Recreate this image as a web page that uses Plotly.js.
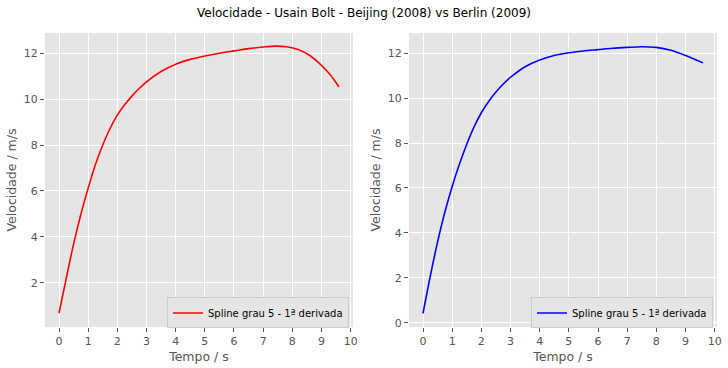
<!DOCTYPE html>
<html>
<head>
<meta charset="utf-8">
<script src="https://cdn.plot.ly/plotly-3.0.1.min.js"></script>
<style>html,body{margin:0;padding:0;background:#fff;}</style>
</head>
<body>
<div id="chart" style="width:728px;height:368px;"></div>
<script>
// Beijing 2008 (left)
const tBeijing = [0, 0.25, 0.5, 0.75, 1, 1.25, 1.5, 1.75, 2, 2.25, 2.5, 2.75, 3, 3.5, 4, 4.5, 5, 5.5, 6, 6.5, 7, 7.4, 7.8, 8.2, 8.6, 9, 9.3, 9.6];
const vBeijing = [0.67, 2.2, 3.68, 4.98, 6.12, 7.15, 8.0, 8.72, 9.3, 9.75, 10.13, 10.46, 10.75, 11.2, 11.52, 11.73, 11.88, 12.0, 12.1, 12.2, 12.27, 12.31, 12.28, 12.16, 11.9, 11.47, 11.06, 10.53];
// Berlin 2009 (right)
const tBerlin = [0, 0.25, 0.5, 0.75, 1, 1.25, 1.5, 1.75, 2, 2.25, 2.5, 2.75, 3, 3.5, 4, 4.5, 5, 5.5, 6, 6.5, 7, 7.5, 8, 8.5, 9, 9.6];
const vBerlin = [0.42, 2.08, 3.6, 4.93, 6.07, 7.07, 7.95, 8.72, 9.35, 9.85, 10.27, 10.63, 10.93, 11.4, 11.7, 11.9, 12.02, 12.1, 12.16, 12.22, 12.26, 12.29, 12.26, 12.13, 11.9, 11.57];

const seriesName = "Spline grau 5 - 1ª derivada";
const chartTitle = "Velocidade - Usain Bolt - Beijing (2008) vs Berlin (2009)";
const xLabel = "Tempo / s";
const yLabel = "Velocidade / m/s";
const xTicks = [0, 1, 2, 3, 4, 5, 6, 7, 8, 9, 10];

const FONT = "DejaVu Sans, sans-serif";
const tickFont = {family: FONT, size: 11, color: "#555555"};
const titleFont = {family: FONT, size: 12.5, color: "#555555"};

function xax(domain, anchor) {
  return {
    domain: domain, anchor: anchor, range: [-0.48, 10.08],
    tickmode: "array", tickvals: xTicks, ticktext: xTicks.map(String),
    showgrid: true, gridcolor: "#ffffff", gridwidth: 1, zeroline: false,
    showline: false, ticks: "outside", ticklen: 4, tickcolor: "#555555", tickwidth: 1,
    tickfont: tickFont, title: {text: xLabel, font: titleFont, standoff: 5}
  };
}
function yax(range, anchor) {
  return {
    range: range, anchor: anchor, dtick: 2, tick0: 0,
    showgrid: true, gridcolor: "#ffffff", gridwidth: 1, zeroline: false,
    showline: false, ticks: "outside", ticklen: 4, tickcolor: "#555555", tickwidth: 1,
    tickfont: tickFont, title: {text: yLabel, font: titleFont, standoff: 4}
  };
}

const traces = [
  {x: tBeijing, y: vBeijing, type: "scatter", mode: "lines", name: seriesName,
   line: {color: "#ff0000", width: 1.6, shape: "spline", smoothing: 0.8}, xaxis: "x", yaxis: "y", legend: "legend"},
  {x: tBerlin, y: vBerlin, type: "scatter", mode: "lines", name: seriesName,
   line: {color: "#0000ff", width: 1.6, shape: "spline", smoothing: 0.8}, xaxis: "x2", yaxis: "y2", legend: "legend2"}
];

const legendBase = {
  bgcolor: "#E5E5E5", bordercolor: "#cccccc", borderwidth: 1,
  font: {family: FONT, size: 10, color: "#000000"},
  xanchor: "right", yanchor: "bottom", itemwidth: 30, tracegroupgap: 0
};

const layout = {
  width: 728, height: 368,
  margin: {l: 45, r: 11, t: 33, b: 41},
  paper_bgcolor: "#ffffff", plot_bgcolor: "#E5E5E5",
  font: {family: FONT},
  title: {text: chartTitle, font: {family: FONT, size: 12, color: "#000000"}, x: 0.5, xref: "container", xanchor: "center", yref: "container", y: 0.964, yanchor: "middle"},
  xaxis: xax([0, 0.4583], "y"),
  yaxis: yax([0.07, 12.88], "x"),
  xaxis2: xax([0.5417, 1], "y2"),
  yaxis2: yax([-0.19, 12.9], "x2"),
  showlegend: true,
  legend: Object.assign({}, legendBase, {x: 0.4524, y: -0.005}),
  legend2: Object.assign({}, legendBase, {x: 0.994, y: -0.005})
};

Plotly.newPlot("chart", traces, layout, {displayModeBar: false, staticPlot: true});
</script>
</body>
</html>
